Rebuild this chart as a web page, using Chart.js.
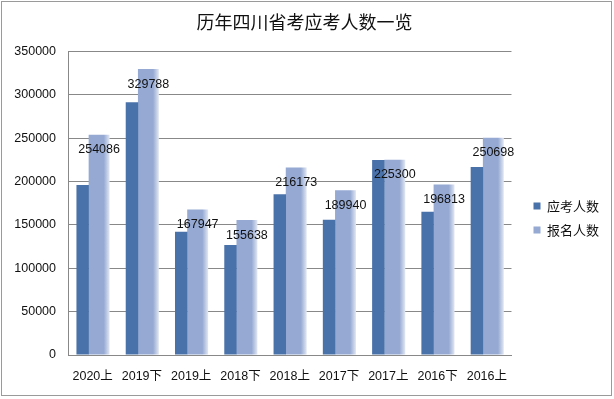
<!DOCTYPE html>
<html>
<head>
<meta charset="utf-8">
<script src="https://cdn.jsdelivr.net/npm/chart.js@4/dist/chart.umd.min.js"></script>
<style>
  html, body { margin: 0; padding: 0; background: #ffffff; }
  #wrap { width: 614px; height: 399px; position: relative; }
</style>
</head>
<body>
<div id="wrap"><canvas id="c" width="614" height="399"></canvas></div>
<script>
const chartTitle = '历年四川省考应考人数一览';
const categories = ['2020上', '2019下', '2019上', '2018下', '2018上', '2017下', '2017上', '2016下', '2016上'];
const seriesNames = ['应考人数', '报名人数'];
const examTakers = [196000, 291500, 142300, 126800, 185500, 156000, 225000, 165300, 217000];
const registrants = [254086, 329788, 167947, 155638, 216173, 189940, 225300, 196813, 250698];
const yMin = 0;
const yMax = 350000;
const yStep = 50000;

const FONT = '"Liberation Sans", "Noto Sans CJK SC", sans-serif';
const CJK = '"Noto Sans CJK SC", "Liberation Sans", sans-serif';
const LIGHT = '#95a9d3';

const framePlugin = {
  id: 'frame',
  beforeDraw(chart) {
    const ctx = chart.ctx;
    ctx.save();
    ctx.fillStyle = '#ffffff';
    ctx.fillRect(0, 0, chart.width, chart.height);
    ctx.strokeStyle = '#9a9a9a';
    ctx.lineWidth = 1;
    ctx.strokeRect(1.5, 1.5, 610, 394);
    ctx.restore();
  }
};

const valueLabelPlugin = {
  id: 'valueLabels',
  afterDatasetsDraw(chart) {
    const ctx = chart.ctx;
    const meta = chart.getDatasetMeta(1);
    const data = chart.data.datasets[1].data;
    ctx.save();
    ctx.font = '12.5px ' + FONT;
    ctx.fillStyle = '#111111';
    ctx.textAlign = 'center';
    ctx.textBaseline = 'middle';
    meta.data.forEach((bar, i) => {
      ctx.fillText(String(data[i]), bar.x, bar.y + 15);
    });
    ctx.restore();
  }
};

function lightFill(context) {
  const chart = context.chart;
  if (!chart.chartArea || context.type !== 'data') return LIGHT;
  const meta = chart.getDatasetMeta(context.datasetIndex);
  const el = meta.data[context.dataIndex];
  let cx;
  let w;
  if (el && typeof el.x === 'number' && !isNaN(el.x) && el.width) {
    cx = el.x; w = el.width;
  } else {
    const xs = chart.scales.x;
    cx = xs.getPixelForValue(context.dataIndex) + 6.5; w = 21;
  }
  const g = chart.ctx.createLinearGradient(cx - w / 2, 0, cx + w / 2, 0);
  g.addColorStop(0, LIGHT);
  g.addColorStop(0.72, LIGHT);
  g.addColorStop(1, '#e3e8f2');
  return g;
}

new Chart(document.getElementById('c'), {
  type: 'bar',
  data: {
    labels: categories,
    datasets: [
      {
        label: seriesNames[0],
        data: examTakers,
        backgroundColor: '#4a72aa',
        borderWidth: 0,
        categoryPercentage: 0.809,
        barPercentage: 0.625
      },
      {
        label: seriesNames[1],
        data: registrants,
        backgroundColor: lightFill,
        borderWidth: 0,
        categoryPercentage: 0.526,
        barPercentage: 1.615
      }
    ]
  },
  options: {
    responsive: false,
    animation: false,
    devicePixelRatio: 1,
    layout: { padding: { left: 0, right: 5, top: 8, bottom: 1 } },
    plugins: {
      title: {
        display: true,
        text: chartTitle,
        color: '#111111',
        font: { family: CJK, size: 18, weight: 'normal', lineHeight: 1.2 },
        padding: { top: 3, bottom: 19 }
      },
      legend: {
        position: 'right',
        align: 'center',
        title: { display: true, text: '', font: { size: 10, lineHeight: 1 }, padding: { top: 10, bottom: 10 } },
        labels: {
          boxWidth: 7,
          boxHeight: 7,
          padding: 11,
          color: '#111111',
          font: { family: CJK, size: 13 },
          generateLabels(chart) {
            const items = Chart.defaults.plugins.legend.labels.generateLabels(chart);
            items.forEach(it => { if (it.datasetIndex === 1) it.fillStyle = LIGHT; });
            return items;
          }
        }
      },
      tooltip: { enabled: false }
    },
    scales: {
      x: {
        grid: { display: false, drawTicks: false },
        border: { display: true, color: '#888888', width: 1 },
        ticks: {
          color: '#111111',
          font: { family: FONT, size: 12.5 },
          padding: 14,
          autoSkip: false,
          maxRotation: 0
        }
      },
      y: {
        min: yMin,
        max: yMax,
        grid: { color: '#888888', lineWidth: 1, drawTicks: false },
        border: { display: true, color: '#888888', width: 1 },
        ticks: {
          stepSize: yStep,
          color: '#111111',
          font: { family: FONT, size: 12.5 },
          padding: 12,
          callback: (v) => String(v)
        },
        afterFit(scale) { scale.width = 68; }
      },
      yR: {
        position: 'right',
        display: true,
        grid: { display: false, drawTicks: false },
        border: { display: false },
        ticks: { display: false },
        afterFit(scale) { scale.width = 11; }
      }
    }
  },
  plugins: [framePlugin, valueLabelPlugin]
});
</script>
</body>
</html>
